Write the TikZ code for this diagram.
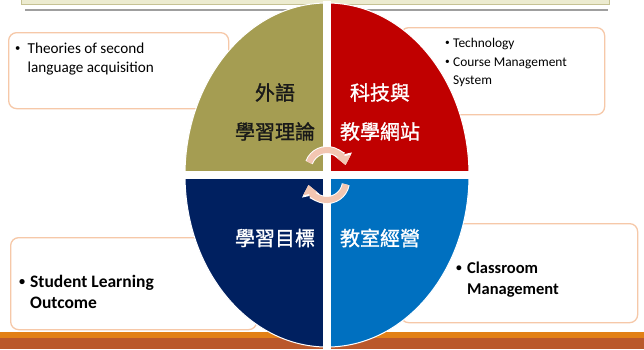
\documentclass[tikz,border=0pt]{standalone}
\usepackage{fontspec}
\usepackage{graphicx}
\setmainfont{Carlito}
\newfontfamily\cjk{Noto Sans CJK TC}[FakeBold=1.2]
\usetikzlibrary{arrows.meta,calc}

\definecolor{quadolive}{RGB}{165,157,82}
\definecolor{quadred}{RGB}{192,0,0}
\definecolor{quadnavy}{RGB}{0,32,96}
\definecolor{quadblue}{RGB}{0,112,192}
\definecolor{boxline}{RGB}{246,200,168}
\definecolor{barfill}{RGB}{236,235,208}
\definecolor{barline}{RGB}{198,194,148}
\definecolor{stripeorange}{RGB}{226,128,22}
\definecolor{stripebrown}{RGB}{186,88,43}
\definecolor{cyclepink}{RGB}{242,198,178}

\tikzset{
  notebox/.style={draw=boxline, line width=1.3pt, rounded corners=8pt, fill=white,
    anchor=north west, inner sep=0pt},
  notetext/.style={anchor=north west, inner sep=0pt, align=left, text=black},
  quadtext/.style={font=\cjk\fontsize{20}{39}\selectfont, align=center, inner sep=0pt},
  cyclearrow/.style={draw=cyclepink, line width=6pt,
    -{Triangle[width=14pt,length=9pt]},
    preaction={draw=white, line width=8pt, -{Triangle[width=17pt,length=11pt]}}}
}
\newcommand{\bul}[2]{\makebox[#1][l]{\raisebox{0.12em}{\scalebox{0.7}{\textbullet}}}#2}

\begin{document}
\begin{tikzpicture}[x=1pt,y=-1pt]
\useasboundingbox[fill=white] (0,0) rectangle (644,349);
\draw[barline, fill=barfill, line width=1pt] (21,-2) rectangle (609,4);
\draw[gray!75, line width=1.5pt] (25,10) -- (608,10);

\node[notebox, minimum width=220pt, minimum height=76pt] (theorybox) at (8,32) {};
\node[notebox, minimum width=204pt, minimum height=87pt] (techbox) at (400,27) {};
\node[notebox, minimum width=246pt, minimum height=92pt] (outcomebox) at (10,237) {};
\node[notebox, minimum width=237pt, minimum height=99pt] (classbox) at (400,223) {};

\node[notetext, font=\fontsize{15.2}{19}\selectfont] (theorytext) at (15,43)
  {\bul{12.5pt}{Theories of second}\\\hspace*{12.5pt}language acquisition};
\node[notetext, font=\fontsize{13.4}{18.5}\selectfont] (techtext) at (445,38)
  {\bul{8pt}{Technology}\\\bul{8pt}{Course Management}\\\hspace*{8pt}System};
\node[notetext, font=\bfseries\fontsize{17.5}{21}\selectfont] (outcometext) at (19,275)
  {\bul{11pt}{Student Learning}\\\hspace*{11pt}Outcome};
\node[notetext, font=\bfseries\fontsize{16.5}{21}\selectfont] (classtext) at (456,262)
  {\bul{11pt}{Classroom}\\\hspace*{11pt}Management};

\fill[stripeorange] (0,332) rectangle (644,338);
\fill[stripebrown] (0,338) rectangle (644,349);

\coordinate (hub) at (327,175);
\fill[quadolive] (hub) -- ++(-142,0) arc[start angle=180, end angle=270, x radius=142, y radius=172] -- cycle;
\fill[quadred] (hub) -- ++(0,-172) arc[start angle=270, end angle=360, x radius=142, y radius=172] -- cycle;
\fill[quadblue] (hub) -- ++(142,0) arc[start angle=0, end angle=90, x radius=142, y radius=172] -- cycle;
\fill[quadnavy] (hub) -- ++(0,172) arc[start angle=90, end angle=180, x radius=142, y radius=172] -- cycle;
\draw[white, line width=1pt] (hub) ellipse[x radius=142, y radius=172];
\draw[white, line width=8pt] ([yshift=-174pt]hub) -- ([yshift=174pt]hub)
  ([xshift=-144pt]hub) -- ([xshift=144pt]hub);

\coordinate (upperstart) at ($(327,169)+(200:19)$);
\draw[cyclearrow] (upperstart) arc[start angle=200, end angle=348, radius=19];
\coordinate (lowerstart) at ($(327,181)+(10:19)$);
\draw[cyclearrow] (lowerstart) arc[start angle=10, end angle=168, radius=19];

\node[quadtext, text=black!90] (theory) at (275,112) {外語\\學習理論};
\node[quadtext, text=white] (tech) at (380,112) {科技與\\教學網站};
\node[quadtext, text=white] (outcome) at (275,238) {學習目標};
\node[quadtext, text=white] (classroom) at (380,238) {教室經營};
\end{tikzpicture}
\end{document}
